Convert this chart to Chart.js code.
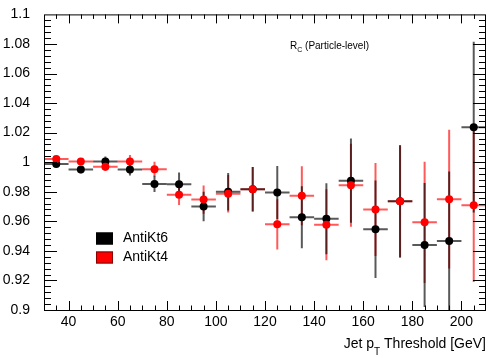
<!DOCTYPE html>
<html>
<head>
<meta charset="utf-8">
<script src="https://cdn.jsdelivr.net/npm/chart.js@4/dist/chart.umd.min.js"></script>
<style>
  html, body { margin: 0; padding: 0; background: #fff; }
  #wrap { width: 490px; height: 358px; }
</style>
</head>
<body>
<div id="wrap"><canvas id="rc" width="490" height="358"></canvas></div>
<script>
/* ── R_C vs jet pT threshold, AntiKt6 / AntiKt4 ── */

const binCenters = [35, 45, 55, 65, 75, 85, 95, 105, 115, 125, 135, 145, 155, 165, 175, 185, 195, 205];
const binHalfWidth = 5;

const kt6Vals = [0.9987, 0.9950, 1.0004, 0.9950, 0.9853, 0.9850, 0.9700, 0.9800, 0.9817, 0.9795, 0.9627, 0.9617, 0.9875, 0.9547, 0.9735, 0.9440, 0.9467, 1.0237];
const kt6Errs = [0.0010, 0.0025, 0.0035, 0.0040, 0.0055, 0.0080, 0.0100, 0.0127, 0.0150, 0.0180, 0.0210, 0.0240, 0.0285, 0.0330, 0.0380, 0.0420, 0.0470, 0.0578];

const kt4Vals = [1.0022, 1.0004, 0.9970, 1.0004, 0.9953, 0.9780, 0.9747, 0.9787, 0.9817, 0.9580, 0.9773, 0.9577, 0.9844, 0.9680, 0.9735, 0.9593, 0.9750, 0.9709];
const kt4Errs = [0.0010, 0.0023, 0.0030, 0.0045, 0.0050, 0.0070, 0.0095, 0.0127, 0.0150, 0.0170, 0.0200, 0.0240, 0.0280, 0.0315, 0.0380, 0.0410, 0.0470, 0.0520];

const xTickVals = [40, 60, 80, 100, 120, 140, 160, 180, 200];
const legendLabels = ['AntiKt6', 'AntiKt4'];
const FONT = '"Liberation Sans", Arial, Helvetica, sans-serif';

const toPoints = (vals, errs) => binCenters.map((x, i) => ({ x, y: vals[i], err: errs[i] }));

/* ===================== ERROR BARS ===================== */
const errorBars = {
    id: 'errorBars',
    beforeDatasetsDraw(chart) {
        const { ctx, chartArea: a, scales: { x, y } } = chart;
        ctx.save();
        ctx.beginPath();
        ctx.rect(a.left, a.top, a.right - a.left, a.bottom - a.top);
        ctx.clip();
        chart.data.datasets.forEach(ds => {
            ctx.strokeStyle = ds.errColor;
            ctx.lineWidth = 2;
            ds.data.forEach(p => {
                const px = x.getPixelForValue(p.x);
                const py = y.getPixelForValue(p.y);
                ctx.beginPath();
                ctx.moveTo(x.getPixelForValue(p.x - binHalfWidth), py);
                ctx.lineTo(x.getPixelForValue(p.x + binHalfWidth), py);
                ctx.moveTo(px, y.getPixelForValue(p.y - p.err));
                ctx.lineTo(px, y.getPixelForValue(p.y + p.err));
                ctx.stroke();
            });
        });
        ctx.restore();
    }
};

/* ===================== ROOT-STYLE FRAME, TICKS, TEXT ===================== */
const rootFrame = {
    id: 'rootFrame',
    afterDraw(chart) {
        const { ctx, chartArea: a, scales: { x, y } } = chart;
        ctx.save();
        ctx.strokeStyle = '#000';
        ctx.lineWidth = 1;
        ctx.strokeRect(a.left + 0.5, a.top + 0.5, a.right - a.left - 1, a.bottom - a.top);

        // x ticks (bottom + top), minor every 5
        ctx.beginPath();
        for (let v = 35; v < 210; v += 5) {
            const px = Math.round(x.getPixelForValue(v)) + 0.5;
            const len = v % 20 === 0 ? 9 : 4.5;
            ctx.moveTo(px, a.bottom); ctx.lineTo(px, a.bottom - len);
            ctx.moveTo(px, a.top);    ctx.lineTo(px, a.top + len);
        }
        // y ticks (left + right), minor every 0.004
        for (let k = 1; k < 50; k++) {
            const py = Math.round(y.getPixelForValue(0.9 + k * 0.004)) + 0.5;
            const len = k % 5 === 0 ? 13 : 7;
            ctx.moveTo(a.left, py);  ctx.lineTo(a.left + len, py);
            ctx.moveTo(a.right, py); ctx.lineTo(a.right - len, py);
        }
        ctx.stroke();

        ctx.fillStyle = '#000';
        ctx.textBaseline = 'alphabetic';

        // annotation R_C (Particle-level)
        ctx.font = `10px ${FONT}`;
        ctx.fillText('R', 290, 49);
        let w = ctx.measureText('R').width;
        ctx.font = `7px ${FONT}`;
        ctx.fillText('C', 290 + w, 52);
        const wc = ctx.measureText('C').width;
        ctx.font = `10px ${FONT}`;
        ctx.fillText(' (Particle-level)', 290 + w + wc, 49);

        // x-axis title, right aligned
        ctx.font = `14px ${FONT}`;
        const p1 = 'Jet p', p3 = ' Threshold [GeV]';
        const w1 = ctx.measureText(p1).width, w3 = ctx.measureText(p3).width;
        ctx.font = `10px ${FONT}`;
        const w2 = ctx.measureText('T').width;
        const right = 486;
        const x0 = right - w1 - w2 - w3;
        ctx.font = `14px ${FONT}`;
        ctx.fillText(p1, x0, 348);
        ctx.fillText(p3, x0 + w1 + w2, 348);
        ctx.font = `10px ${FONT}`;
        ctx.fillText('T', x0 + w1, 355);

        // legend
        const colors = ['#000', '#ff0000'];
        const rows = [238.5, 257.5];
        ctx.font = `14px ${FONT}`;
        ctx.textBaseline = 'middle';
        legendLabels.forEach((lab, i) => {
            ctx.fillStyle = colors[i];
            ctx.fillRect(96, rows[i] - 6, 17, 12);
            ctx.strokeStyle = i === 0 ? '#000' : '#8a0000';
            ctx.strokeRect(96.5, rows[i] - 5.5, 16, 11);
            ctx.fillStyle = '#000';
            ctx.fillText(lab, 123, rows[i]);
        });
        ctx.restore();
    }
};

/* ===================== CHART ===================== */
new Chart(document.getElementById('rc').getContext('2d'), {
    type: 'scatter',
    data: {
        datasets: [
            {
                label: legendLabels[1],
                data: toPoints(kt4Vals, kt4Errs),
                backgroundColor: '#ff0000',
                borderColor: '#ff0000',
                errColor: 'rgba(255,0,0,0.65)',
                pointRadius: 4,
                pointBorderWidth: 0
            },
            {
                label: legendLabels[0],
                data: toPoints(kt6Vals, kt6Errs),
                backgroundColor: '#000',
                borderColor: '#000',
                errColor: 'rgba(0,0,0,0.65)',
                pointRadius: 4,
                pointBorderWidth: 0
            }
        ]
    },
    options: {
        responsive: false,
        animation: false,
        events: [],
        layout: { padding: { top: 10, right: 2, left: 0, bottom: 0 } },
        plugins: { legend: { display: false }, tooltip: { enabled: false } },
        scales: {
            x: {
                type: 'linear',
                min: 30,
                max: 210,
                afterBuildTicks: s => { s.ticks = xTickVals.map(v => ({ value: v })); },
                afterFit: s => { s.height = 48; },
                grid: { display: false },
                border: { display: false },
                ticks: { color: '#000', padding: -4, font: { family: FONT, size: 14 } }
            },
            y: {
                min: 0.9,
                max: 1.1,
                afterFit: s => { s.width = 44; },
                grid: { display: false },
                border: { display: false },
                ticks: {
                    stepSize: 0.02,
                    color: '#000',
                    padding: 6,
                    font: { family: FONT, size: 14 },
                    callback: v => String(parseFloat(Number(v).toFixed(2)))
                }
            }
        }
    },
    plugins: [errorBars, rootFrame]
});
</script>
</body>
</html>
